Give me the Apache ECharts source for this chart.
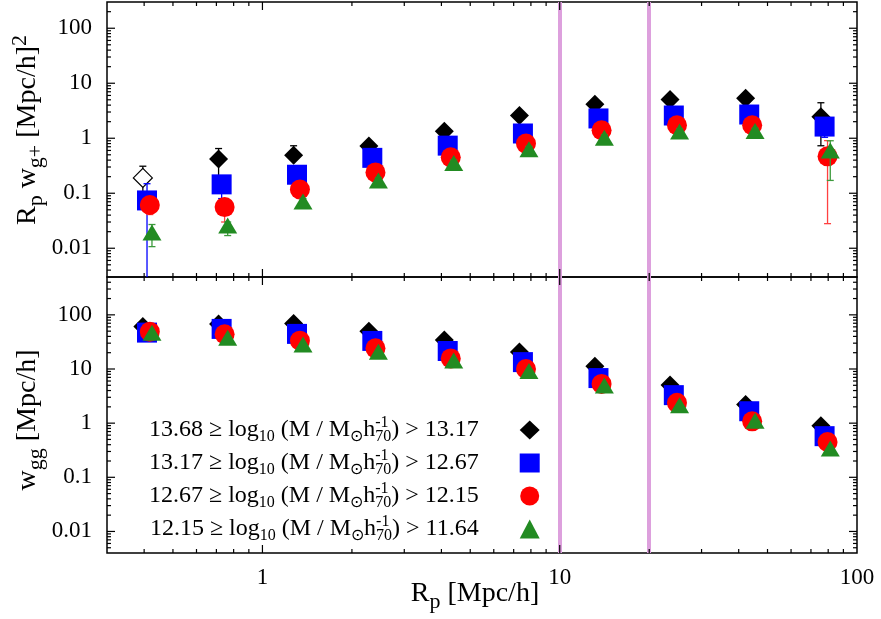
<!DOCTYPE html>
<html>
<head>
<meta charset="utf-8">
<script src="https://cdn.jsdelivr.net/npm/echarts@6/dist/echarts.min.js"></script>
<style>
  html, body { margin: 0; padding: 0; background: #fff; }
  #chart { width: 881px; height: 619px; }
</style>
</head>
<body>
<div id="chart"></div>
<script>
// projected separation of each mass bin (slightly offset per bin, as plotted)
const rpDiamond  = [0.396, 0.712, 1.273, 2.28, 4.09, 7.32, 13.13, 23.5, 42.2, 75.6];
const rpSquare   = [0.409, 0.729, 1.307, 2.342, 4.20, 7.52, 13.5, 24.2, 43.4, 77.8];
const rpCircle   = [0.418, 0.746, 1.337, 2.40, 4.30, 7.70, 13.83, 24.8, 44.4, 79.6];
const rpTriangle = [0.425, 0.764, 1.369, 2.455, 4.40, 7.88, 14.13, 25.3, 45.4, 81.3];

// top panel: Rp * w_g+
const wgpDiamond  = [0.19, 0.42, 0.49, 0.72, 1.34, 2.59, 4.17, 5.07, 5.36, 2.46];
const wgpSquare   = [0.074, 0.145, 0.217, 0.44, 0.734, 1.22, 2.29, 2.59, 2.70, 1.63];
const wgpCircle   = [0.061, 0.056, 0.117, 0.239, 0.45, 0.80, 1.40, 1.72, 1.72, 0.469];
const wgpTriangle = [0.0193, 0.0259, 0.071, 0.17, 0.355, 0.63, 1.02, 1.32, 1.35, 0.60];
// open symbol = negative signal
const wgpDiamondOpen = [0];

// top panel error bars (low / high)
const wgpDiamondLo  = [0.10, 0.20, 0.42, 0.62, 1.15, 2.25, 3.6, 4.4, 4.7, 0.73];
const wgpDiamondHi  = [0.31, 0.65, 0.73, 0.84, 1.55, 2.95, 4.8, 5.8, 6.1, 4.42];
const wgpSquareLo   = [0.001, 0.08, 0.18, 0.37, 0.62, 1.03, 1.95, 2.2, 2.3, 1.04];
const wgpSquareHi   = [0.149, 0.17, 0.26, 0.52, 0.86, 1.42, 2.65, 3.0, 3.1, 1.9];
const wgpCircleLo   = [0.041, 0.030, 0.098, 0.20, 0.38, 0.68, 1.2, 1.46, 1.46, 0.028];
const wgpCircleHi   = [0.072, 0.066, 0.138, 0.28, 0.53, 0.94, 1.65, 2.0, 2.0, 0.905];
const wgpTriangleLo = [0.0107, 0.017, 0.062, 0.15, 0.31, 0.55, 0.9, 1.16, 1.18, 0.171];
const wgpTriangleHi = [0.027, 0.030, 0.080, 0.19, 0.40, 0.71, 1.15, 1.48, 1.52, 0.90];

// bottom panel: w_gg
const wggDiamond  = [60.7, 68, 69, 49.9, 34.4, 20.6, 11.3, 5.04, 2.21, 0.90];
const wggSquare   = [47, 55, 44.5, 33, 21.5, 13.4, 6.8, 3.29, 1.66, 0.575];
const wggCircle   = [49, 43.8, 33.4, 24.1, 15.7, 10.0, 5.3, 2.37, 1.08, 0.448];
const wggTriangle = [46.8, 37.8, 28.4, 20.8, 14.3, 9.2, 4.97, 2.14, 1.11, 0.339];

// mass bins
const massHigh = ['13.68', '13.17', '12.67', '12.15'];
const massLow  = ['13.17', '12.67', '12.15', '11.64'];

// fitting range markers
const fitRange = [10, 20];

// tick labels
const xTickValues = [1, 10, 100];
const xTickLabels = ['1', '10', '100'];
const yTickValues = [0.01, 0.1, 1, 10, 100];
const yTickLabels = ['0.01', '0.1', '1', '10', '100'];

const FONT = 'Liberation Serif';
const colors = ['#000000', '#0000ff', '#ff0000', '#228b22'];
const barColors = ['#000000', '#0000ff', '#ff4040', '#3c9a3c'];
const symbols = ['diamond', 'rect', 'circle', 'triangle'];
const symbolSizes = [[19, 19], [20, 20], [20, 20], [19, 16]];

const rpAll = [rpDiamond, rpSquare, rpCircle, rpTriangle];
const wgpAll = [wgpDiamond, wgpSquare, wgpCircle, wgpTriangle];
const wgpLoAll = [wgpDiamondLo, wgpSquareLo, wgpCircleLo, wgpTriangleLo];
const wgpHiAll = [wgpDiamondHi, wgpSquareHi, wgpCircleHi, wgpTriangleHi];
const wggAll = [wggDiamond, wggSquare, wggCircle, wggTriangle];

const names = massHigh.map((h, i) => h + ' ≥ log10 (M / M⊙ h70^-1) > ' + massLow[i]);

function legendText(name) {
  const i = names.indexOf(name);
  return '{t|' + massHigh[i] + ' ≥ log}{s|10}{t| (M / M}{s|⊙}{t|h}{u|-1}{s|70}{t|) > ' + massLow[i] + '}{sp| }';
}

function tickLabel(values, labels) {
  return function (v) {
    for (let i = 0; i < values.length; i++) {
      if (Math.abs(Math.log10(v) - Math.log10(values[i])) < 1e-6) return labels[i];
    }
    return '';
  };
}

// tick marks on all four sides, gnuplot style (kind 0/1 = x major/minor, 2/3 = y major/minor)
function tickData(xMin, xMax, yMin, yMax) {
  const out = [];
  const inside = (v, a, b) => v > a * 1.0001 && v < b * 0.9999;
  for (let e = -4; e <= 3; e++) {
    for (let m = 1; m <= 9; m++) {
      const v = m * Math.pow(10, e);
      if (inside(v, xMin, xMax)) out.push([v, 1, m === 1 ? 0 : 1]);
      if (inside(v, yMin, yMax)) out.push([1, v, m === 1 ? 2 : 3]);
    }
  }
  return out;
}

function renderTicks(params, api) {
  const cs = params.coordSys;
  const kind = api.value(2);
  const len = (kind === 0 || kind === 2) ? 8 : 4;
  const style = { stroke: '#000', lineWidth: 1.2 };
  if (kind < 2) {
    const px = api.coord([api.value(0), api.value(1)])[0];
    return { type: 'group', children: [
      { type: 'line', shape: { x1: px, y1: cs.y + cs.height, x2: px, y2: cs.y + cs.height - len }, style: style },
      { type: 'line', shape: { x1: px, y1: cs.y, x2: px, y2: cs.y + len }, style: style }
    ] };
  }
  const py = api.coord([api.value(0), api.value(1)])[1];
  return { type: 'group', children: [
    { type: 'line', shape: { x1: cs.x, y1: py, x2: cs.x + len, y2: py }, style: style },
    { type: 'line', shape: { x1: cs.x + cs.width, y1: py, x2: cs.x + cs.width - len, y2: py }, style: style }
  ] };
}

function errorBarItem(color) {
  return function (params, api) {
    const top = api.coord([api.value(0), api.value(2)]);
    const bot = api.coord([api.value(0), api.value(1)]);
    const cap = 3.5;
    const style = { stroke: color, lineWidth: 1.3 };
    return { type: 'group', children: [
      { type: 'line', shape: { x1: top[0], y1: top[1], x2: bot[0], y2: bot[1] }, style: style },
      { type: 'line', shape: { x1: top[0] - cap, y1: top[1], x2: top[0] + cap, y2: top[1] }, style: style },
      { type: 'line', shape: { x1: bot[0] - cap, y1: bot[1], x2: bot[0] + cap, y2: bot[1] }, style: style }
    ] };
  };
}

const XMIN = 0.3, XMAX = 100;
const TOP_YMIN = 0.003, TOP_YMAX = 300;
const BOT_YMIN = 0.004, BOT_YMAX = 500;

function richName(size) {
  const sub = Math.round(size * 0.8);
  return {
    t: { fontFamily: FONT, fontSize: size, lineHeight: size + 10, verticalAlign: 'middle', align: 'left', color: '#000' },
    s: { fontFamily: FONT, fontSize: sub, lineHeight: sub - 2, verticalAlign: 'bottom', align: 'left', color: '#000' },
    p: { fontFamily: FONT, fontSize: sub, lineHeight: sub - 2, verticalAlign: 'top', align: 'left', color: '#000' }
  };
}

const labelStyle = { fontFamily: FONT, fontSize: 23, color: '#000' };

const series = [];

// tick marks
series.push({
  type: 'custom', xAxisIndex: 0, yAxisIndex: 0, silent: true, z: 20,
  renderItem: renderTicks, encode: { x: 0, y: 1 },
  data: tickData(XMIN, XMAX, TOP_YMIN, TOP_YMAX)
});
series.push({
  type: 'custom', xAxisIndex: 1, yAxisIndex: 1, silent: true, z: 20,
  renderItem: renderTicks, encode: { x: 0, y: 1 },
  data: tickData(XMIN, XMAX, BOT_YMIN, BOT_YMAX)
});

for (let i = 0; i < 4; i++) {
  // top panel
  series.push({
    type: 'custom', xAxisIndex: 0, yAxisIndex: 0, silent: true, clip: true, z: 3 + 2 * i,
    renderItem: errorBarItem(barColors[i]), encode: { x: 0, y: [1, 2] },
    data: rpAll[i].map((x, k) => [x, wgpLoAll[i][k], wgpHiAll[i][k]])
  });
  series.push({
    type: 'scatter', name: names[i], xAxisIndex: 0, yAxisIndex: 0, z: 4 + 2 * i,
    symbol: symbols[i], symbolSize: symbolSizes[i],
    itemStyle: { color: colors[i], opacity: 1 },
    emphasis: { disabled: true },
    data: rpAll[i].map((x, k) => {
      if (i === 0 && wgpDiamondOpen.indexOf(k) >= 0) {
        return { value: [x, wgpAll[i][k]], itemStyle: { color: '#fff', borderColor: '#000', borderWidth: 1.2 } };
      }
      return [x, wgpAll[i][k]];
    }),
    markLine: i === 0 ? {
      silent: true, symbol: 'none', label: { show: false },
      lineStyle: { color: '#dda0dd', width: 4, type: 'solid' },
      data: fitRange.map(v => ({ xAxis: v }))
    } : undefined
  });
  // bottom panel
  series.push({
    type: 'scatter', name: names[i], xAxisIndex: 1, yAxisIndex: 1, z: 4 + 2 * i,
    symbol: symbols[i], symbolSize: symbolSizes[i],
    itemStyle: { color: colors[i], opacity: 1 },
    emphasis: { disabled: true },
    data: rpAll[i].map((x, k) => [x, wggAll[i][k]]),
    markLine: i === 0 ? {
      silent: true, symbol: 'none', label: { show: false },
      lineStyle: { color: '#dda0dd', width: 4, type: 'solid' },
      data: fitRange.map(v => ({ xAxis: v }))
    } : undefined
  });
}

const chart = echarts.init(document.getElementById('chart'));
chart.setOption({
  animation: false,
  backgroundColor: '#fff',
  grid: [
    { left: 107, top: 2, width: 750, height: 275, outerBoundsMode: 'none', show: true, borderColor: '#000', borderWidth: 1.5, backgroundColor: 'transparent' },
    { left: 107, top: 277, width: 750, height: 276, outerBoundsMode: 'none', show: true, borderColor: '#000', borderWidth: 1.5, backgroundColor: 'transparent' }
  ],
  xAxis: [
    {
      type: 'log', gridIndex: 0, min: XMIN, max: XMAX,
      axisLine: { show: false }, axisTick: { show: false }, splitLine: { show: false },
      axisLabel: { show: false }
    },
    {
      type: 'log', gridIndex: 1, min: XMIN, max: XMAX,
      axisLine: { show: false }, axisTick: { show: false }, splitLine: { show: false },
      axisLabel: Object.assign({ margin: 13, formatter: tickLabel(xTickValues, xTickLabels) }, labelStyle),
      name: '{t|R}{s|p}{t| [Mpc/h]}', nameLocation: 'middle', nameGap: 22, nameMoveOverlap: false,
      nameTextStyle: { rich: richName(28), padding: [0, 14, 0, 0] }
    }
  ],
  yAxis: [
    {
      type: 'log', gridIndex: 0, min: TOP_YMIN, max: TOP_YMAX,
      axisLine: { show: false }, axisTick: { show: false }, splitLine: { show: false },
      axisLabel: Object.assign({ margin: 15, formatter: tickLabel(yTickValues, yTickLabels) }, labelStyle),
      name: '{t|R}{s|p}{t| w}{s|g+}{t| [Mpc/h]}{p|2}', nameLocation: 'middle', nameGap: 60, nameRotate: 90,
      nameMoveOverlap: false,
      nameTextStyle: { rich: richName(28), padding: [0, 0, 0, 19] }
    },
    {
      type: 'log', gridIndex: 1, min: BOT_YMIN, max: BOT_YMAX,
      axisLine: { show: false }, axisTick: { show: false }, splitLine: { show: false },
      axisLabel: Object.assign({ margin: 15, formatter: tickLabel(yTickValues, yTickLabels) }, labelStyle),
      name: '{t|w}{s|gg}{t| [Mpc/h]}', nameLocation: 'middle', nameGap: 60, nameRotate: 90,
      nameMoveOverlap: false,
      nameTextStyle: { rich: richName(28), padding: [0, 10, 0, 0] }
    }
  ],
  legend: {
    data: names,
    orient: 'vertical',
    align: 'right',
    left: 149,
    top: 415,
    padding: 0,
    itemGap: 3,
    itemWidth: 20,
    itemHeight: 19,
    selectedMode: false,
    formatter: legendText,
    textStyle: {
      fontFamily: FONT, fontSize: 24, color: '#000',
      rich: {
        t: { fontFamily: FONT, fontSize: 24, lineHeight: 30, verticalAlign: 'middle', align: 'left', color: '#000' },
        s: { fontFamily: FONT, fontSize: 16, lineHeight: 14, verticalAlign: 'bottom', align: 'left', color: '#000' },
        u: { fontFamily: FONT, fontSize: 16, lineHeight: 14, verticalAlign: 'top', align: 'left', width: 0, color: '#000' },
        sp: { fontFamily: FONT, fontSize: 22, align: 'left', width: 36 }
      }
    }
  },
  series: series
});
</script>
</body>
</html>
